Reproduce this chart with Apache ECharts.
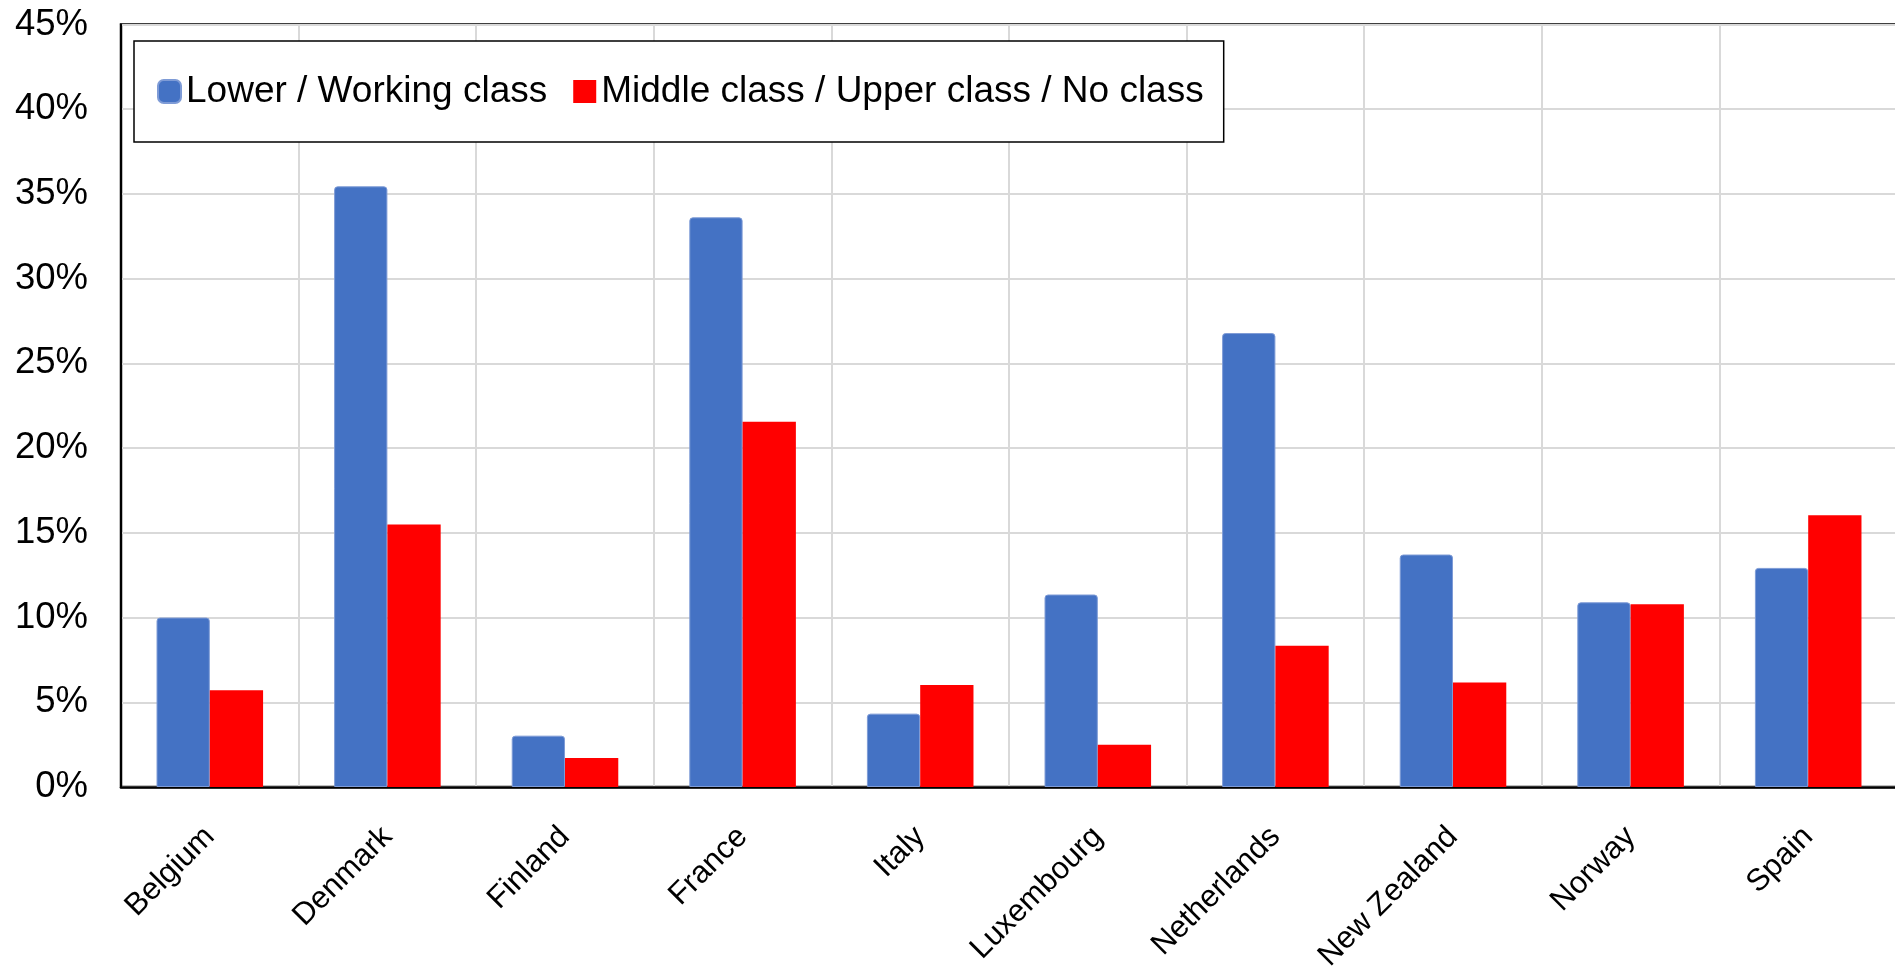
<!DOCTYPE html>
<html>
<head>
<meta charset="utf-8">
<script src="https://cdn.jsdelivr.net/npm/echarts@6/dist/echarts.min.js"></script>
<style>
html,body{margin:0;padding:0;background:#fff;}
#chart{width:1895px;height:966px;}
</style>
</head>
<body>
<div id="chart"></div>
<script>
const categories = ['Belgium','Denmark','Finland','France','Italy','Luxembourg','Netherlands','New Zealand','Norway','Spain'];
const seriesNames = ['Lower / Working class','Middle class / Upper class / No class'];
const lowerWorking = [10.0, 35.45, 3.03, 33.62, 4.33, 11.36, 26.79, 13.72, 10.9, 12.93];
const middleUpperNo = [5.71, 15.49, 1.71, 21.56, 6.02, 2.5, 8.33, 6.16, 10.79, 16.04];
const yTicks = [0, 5, 10, 15, 20, 25, 30, 35, 40, 45];

const FONT = '"Liberation Sans", Arial, sans-serif';
const chart = echarts.init(document.getElementById('chart'), null, {renderer:'canvas'});
chart.setOption({
  animation: false,
  backgroundColor: '#ffffff',
  grid: {
    left: 121, right: -2, top: 24.5, bottom: 179,
    containLabel: false,
    outerBoundsMode: 'none',
    show: true, borderColor: '#000', borderWidth: 2.5, backgroundColor: 'transparent'
  },
  legend: {
    left: 134, top: 41,
    padding: [32, 20, 32, 23],
    backgroundColor: '#fff',
    borderColor: '#000', borderWidth: 1.5,
    itemWidth: 23, itemHeight: 23, itemGap: 26,
    textStyle: {fontFamily: FONT, fontSize: 37, color: '#000'},
    data: [
      {name: seriesNames[0], icon: 'roundRect'},
      {name: seriesNames[1], icon: 'rect'}
    ]
  },
  xAxis: {
    type: 'category',
    data: categories,
    boundaryGap: true,
    axisLine: {show: true, lineStyle: {color: '#000', width: 2.5}},
    axisTick: {show: false},
    splitLine: {show: true, lineStyle: {color: '#d9d9d9', width: 2}},
    axisLabel: {
      rotate: 45, margin: 45, interval: 0,
      fontFamily: FONT, fontSize: 31, color: '#000'
    }
  },
  yAxis: {
    type: 'value',
    min: yTicks[0], max: yTicks[yTicks.length-1], interval: yTicks[1]-yTicks[0],
    axisLine: {show: true, lineStyle: {color: '#000', width: 2}},
    axisTick: {show: false},
    splitLine: {show: true, lineStyle: {color: '#d9d9d9', width: 2}},
    axisLabel: {
      margin: 33, fontFamily: FONT, fontSize: 36.5, color: '#000',
      formatter: v => v + '%'
    }
  },
  series: [
    {
      name: seriesNames[0], type: 'bar', data: lowerWorking,
      barGap: '0%', barCategoryGap: '40%',
      itemStyle: {color: '#4472C4', borderColor: '#7e9bd6', borderWidth: 1, borderRadius: [3,3,0,0]}
    },
    {
      name: seriesNames[1], type: 'bar', data: middleUpperNo,
      barGap: '0%', barCategoryGap: '40%',
      itemStyle: {color: '#FF0000'}
    }
  ]
});
</script>
</body>
</html>
